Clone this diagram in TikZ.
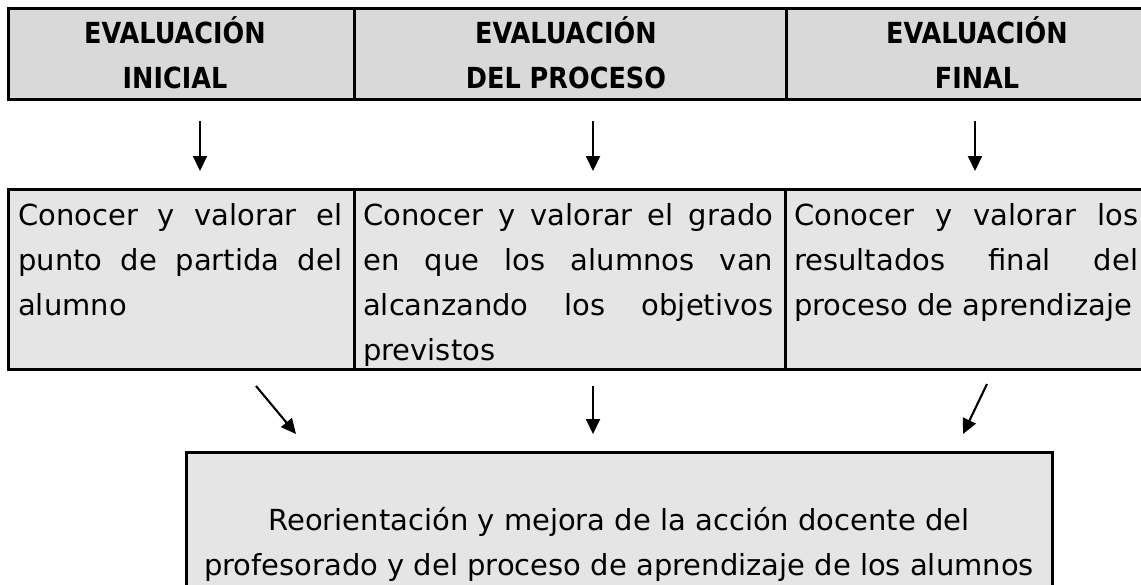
\documentclass[tikz,border=0pt]{standalone}
\usepackage{fontspec}
\setmainfont{DejaVu Sans}
\newfontfamily\headfont[FakeStretch=0.88]{DejaVu Sans}
\usetikzlibrary{arrows.meta}
\begin{document}
\hyphenpenalty=10000
\exhyphenpenalty=10000
\begin{tikzpicture}[x=1pt,y=-1pt,
  cell/.style={draw=black, line width=2.5pt, inner sep=0pt, anchor=north west},
  headcell/.style={cell, fill=black!15},
  bodycell/.style={cell, fill=black!10},
  htext/.style={inner sep=0pt, anchor=north, align=center, font=\headfont\fontsize{29}{45}\selectfont\bfseries},
  btext/.style={inner sep=0pt, anchor=north west, align=justify, font=\fontsize{29}{45}\selectfont},
  ctext/.style={inner sep=0pt, anchor=north, align=center, font=\fontsize{29}{45}\selectfont},
  arr/.style={line width=2.1pt, -{Triangle[length=15pt,width=14pt]}}]
\useasboundingbox (0,0) rectangle (1141,584);
\clip (0,0) rectangle (1141,584);
% header row
\node[headcell, minimum width=346pt, minimum height=91pt] (h1) at (7,7) {};
\node[headcell, minimum width=432pt, minimum height=91pt] (h2) at (353,7) {};
\node[headcell, minimum width=384pt, minimum height=91pt] (h3) at (785,7) {};
\node[htext] (ht1) at (175,12) {\strut EVALUACIÓN\\INICIAL};
\node[htext] (ht2) at (566,12) {\strut EVALUACIÓN\\DEL PROCESO};
\node[htext] (ht3) at (977,12) {\strut EVALUACIÓN\\FINAL};
% description row
\node[bodycell, minimum width=346pt, minimum height=180pt] (d1) at (7,188) {};
\node[bodycell, minimum width=431pt, minimum height=180pt] (d2) at (353,188) {};
\node[bodycell, minimum width=385pt, minimum height=180pt] (d3) at (784,188) {};
\node[btext, text width=324pt] (dt1) at (18,193.5) {\strut Conocer y valorar el\linebreak punto de partida del\linebreak alumno};
\node[btext, text width=410pt] (dt2) at (363,193.5) {\strut Conocer y valorar el grado\linebreak en que los alumnos van\linebreak alcanzando los objetivos\linebreak previstos};
\node[btext, text width=344pt] (dt3) at (794,193.5) {\strut Conocer y valorar los\linebreak resultados final del\linebreak proceso de aprendizaje};
% result box
\node[bodycell, minimum width=866pt, minimum height=200pt] (r) at (185,451) {};
\node[ctext] (rt) at (619,498.5) {\strut Reorientación y mejora de la acción docente del\\profesorado y del proceso de aprendizaje de los alumnos};
% arrow ends
\coordinate (a1s) at (200,121); \coordinate (a1e) at (200,171);
\coordinate (a2s) at (593,121); \coordinate (a2e) at (593,171);
\coordinate (a3s) at (975,121); \coordinate (a3e) at (975,171);
\coordinate (b1s) at (256,386); \coordinate (b1e) at (296,434);
\coordinate (b2s) at (593,386); \coordinate (b2e) at (593,434);
\coordinate (b3s) at (987,384); \coordinate (b3e) at (963,434);
\draw[arr] (a1s) -- (a1e);
\draw[arr] (a2s) -- (a2e);
\draw[arr] (a3s) -- (a3e);
\draw[arr] (b1s) -- (b1e);
\draw[arr] (b2s) -- (b2e);
\draw[arr] (b3s) -- (b3e);
\end{tikzpicture}
\end{document}
